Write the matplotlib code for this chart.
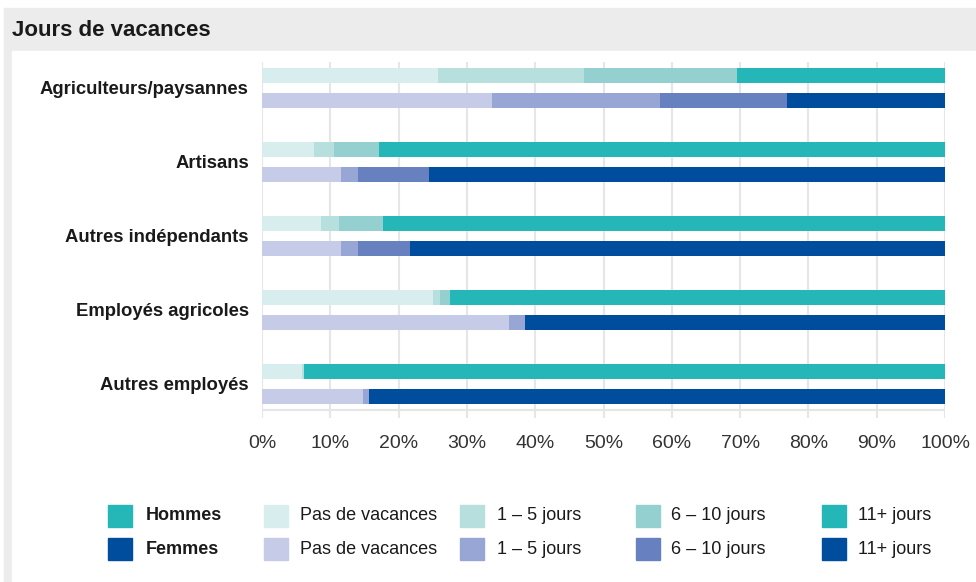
import matplotlib
matplotlib.use("Agg")
import matplotlib.pyplot as plt
from matplotlib.patches import Rectangle
import numpy as np

plt.rcParams["font.family"] = ["Liberation Sans", "DejaVu Sans"]

categories = [
    "Agriculteurs/paysannes",
    "Artisans",
    "Autres indépendants",
    "Employés agricoles",
    "Autres employés",
]
levels = ["Pas de vacances", "1 – 5 jours", "6 – 10 jours", "11+ jours"]

# shares in %, one list per level, one value per category
hommes = {
    "Pas de vacances": [25.7, 7.6, 8.6, 25.0, 5.9],
    "1 – 5 jours": [21.4, 3.0, 2.7, 1.0, 0.3],
    "6 – 10 jours": [22.5, 6.5, 6.4, 1.5, 0.0],
    "11+ jours": [30.4, 82.9, 82.3, 72.5, 93.8],
}
femmes = {
    "Pas de vacances": [33.7, 11.5, 11.6, 36.1, 14.8],
    "1 – 5 jours": [24.6, 2.5, 2.5, 2.4, 0.8],
    "6 – 10 jours": [18.5, 10.4, 7.6, 0.0, 0.0],
    "11+ jours": [23.2, 75.6, 78.3, 61.5, 84.4],
}

colors_h = ["#d8eeee", "#b6dfdd", "#95d0d0", "#25b6b8"]
colors_f = ["#c6cbe8", "#97a6d5", "#6680c0", "#004d9e"]

W, H = 976, 582
fig = plt.figure(figsize=(W / 100, H / 100), dpi=100)
fig.patch.set_facecolor("white")


def px(x, y):
    return x / W, 1 - y / H


# grey frame + title band
fig.patches.append(Rectangle(px(4, H), (W - 4) / W, (H - 8) / H,
                             transform=fig.transFigure, color="#ececec", zorder=0))
fig.patches.append(Rectangle(px(12, H), (W - 12) / W, (H - 51) / H,
                             transform=fig.transFigure, color="white", zorder=0))
fig.text(*px(12, 30), "Jours de vacances", fontsize=16, fontweight="bold",
         va="center", ha="left", color="#1a1a1a")

# axes placed in pixels: x 262..945, y 62..418
ax = fig.add_axes([262 / W, 1 - 418 / H, 683 / W, 356 / H])
ax.set_zorder(5)
ax.set_facecolor("none")

y = np.arange(len(categories))
off = 25 / 74 / 2
bh = 15 / 74

for data, cols, dy in [(hommes, colors_h, -off), (femmes, colors_f, off)]:
    left = np.zeros(len(categories))
    for lvl, c in zip(levels, cols):
        vals = np.array(data[lvl])
        ax.barh(y + dy, vals, left=left, height=bh, color=c, edgecolor="none", zorder=3)
        left += vals

ax.set_xlim(0, 100)
ax.set_ylim((418 - 88) / 74, (62 - 88) / 74)
ax.axhline((410 - 88) / 74, color="#e6e6e6", lw=1.5, zorder=1)
ax.set_xticks(np.arange(0, 101, 10))
ax.set_xticklabels([f"{v}%" for v in range(0, 101, 10)], fontsize=14, color="#333333")
ax.set_yticks(y)
ax.set_yticklabels(categories, fontsize=13.3, fontweight="bold", color="#1a1a1a")
ax.tick_params(axis="x", length=0, pad=12)
ax.tick_params(axis="y", length=0, pad=9.5)
ax.grid(axis="x", color="#e6e6e6", lw=1.5, zorder=0)
for s in ax.spines.values():
    s.set_visible(False)

# legend, laid out by hand
rows = [516, 549]
sw, sh = 24, 22
ax_leg = [("Hommes", "Femmes", colors_h[3], colors_f[3], 108, 146, True)]
xs_sw = [264, 460, 636, 822]
xs_tx = [300, 497, 671, 858]
for i, lvl in enumerate(levels):
    ax_leg.append((lvl, lvl, colors_h[i], colors_f[i], xs_sw[i], xs_tx[i], False))

for lab_h, lab_f, ch, cf, xs, xt, bold in ax_leg:
    for lab, c, yy in [(lab_h, ch, rows[0]), (lab_f, cf, rows[1])]:
        fig.patches.append(Rectangle(px(xs, yy + sh / 2), sw / W, sh / H,
                                     transform=fig.transFigure, color=c, zorder=2))
        fig.text(*px(xt, yy), lab, fontsize=13, va="center", ha="left",
                 fontweight="bold" if bold else "normal", color="#1a1a1a")

fig.savefig("out.png", dpi=100)
